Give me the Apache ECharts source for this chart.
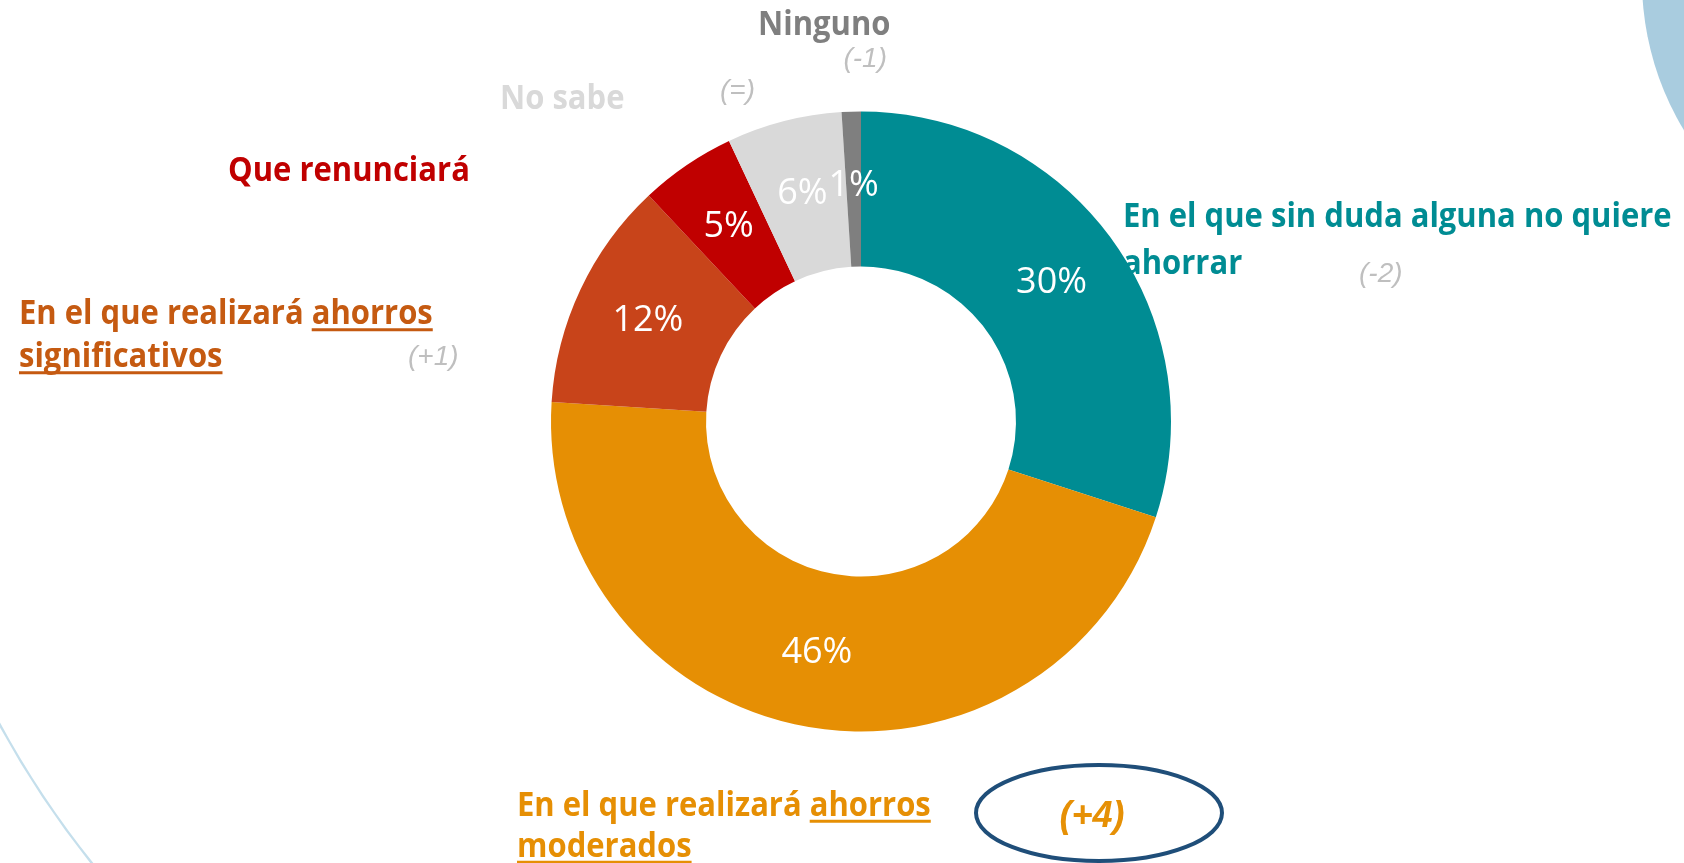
<!DOCTYPE html>
<html><head><meta charset="utf-8">
<script src="https://cdn.jsdelivr.net/npm/echarts@6/dist/echarts.min.js"></script>
<style>html,body{margin:0;padding:0;background:#fff}#c{width:1684px;height:863px}</style>
</head><body><div id="c"></div>
<script>
// ---- data ----
const categories = [
  'En el que sin duda alguna no quiere ahorrar',
  'En el que realizará ahorros moderados',
  'En el que realizará ahorros significativos',
  'Que renunciará',
  'No sabe',
  'Ninguno'
];
const values = [30, 46, 12, 5, 6, 1];
const changes = ['(-2)', '(+4)', '(+1)', '', '(=)', '(-1)'];
const categoryLines = [
  ['En el que sin duda alguna no quiere', 'ahorrar'],
  ['En el que realizará ahorros', 'moderados'],
  ['En el que realizará ahorros', 'significativos'],
  ['Que renunciará'],
  ['No sabe'],
  ['Ninguno']
];
const underlinedWords = [[], [[0, 'ahorros'], [1, 'moderados']], [[0, 'ahorros'], [1, 'significativos']], [], [], []];

// ---- styles ----
const sliceColors = ['#008C93', '#E68F04', '#C8441A', '#C00000', '#D9D9D9', '#7F7F7F'];
const labelColors = ['#008C93', '#E68F04', '#C55A11', '#C00000', '#D9D9D9', '#7F7F7F'];

// label layout: [left x, first-line y, line spacing]
const labelPos = [
  [1123, 217, 47],
  [517, 806, 41],
  [19, 314.5, 43],
  [228, 171.5, 44],
  [500, 99, 44],
  [758, 25, 44]
];
// change layout: [x, y, align]
const changePos = [
  [1359, 274, 'left'],
  [1092, 817, 'center'],
  [408, 357, 'left'],
  null,
  [720, 91, 'left'],
  [887, 59, 'right']
];

const FS = 31, SY = 1.1;
const boldFont = `bold ${FS}px "Open Sans"`;
const mctx = document.createElement('canvas').getContext('2d');
mctx.font = boldFont;

const graphics = [];
// background decorations
graphics.push({type: 'circle', z: 0, shape: {cx: 1932, cy: -20, r: 290}, style: {fill: '#A9CCDF'}});
graphics.push({type: 'arc', z: 0, shape: {cx: 834, cy: 270, r: 950, startAngle: 2.40, endAngle: 2.72}, style: {stroke: '#C5DFEC', lineWidth: 2.5, fill: null}});

categoryLines.forEach((lines, i) => {
  const [lx, ly, sp] = labelPos[i];
  lines.forEach((line, k) => {
    const y = ly + k * sp;
    graphics.push({
      type: 'text', z: 10, x: lx, y: y, scaleY: SY,
      style: {text: line, font: boldFont, fill: labelColors[i], align: 'left', verticalAlign: 'middle', textAlign: 'left', textVerticalAlign: 'middle'}
    });
  });
  underlinedWords[i].forEach(([k, word]) => {
    const line = lines[k];
    const idx = line.indexOf(word);
    const x0 = lx + mctx.measureText(line.slice(0, idx)).width;
    const w = mctx.measureText(word).width;
    const uy = ly + k * sp + 0.4 * FS * SY;
    graphics.push({type: 'rect', z: 10, shape: {x: x0, y: uy, width: w, height: 3}, style: {fill: labelColors[i]}});
  });
});

changes.forEach((c, i) => {
  if (!c) return;
  const [x, y, al] = changePos[i];
  const big = i === 1;
  graphics.push({
    type: 'text', z: 11, x: x, y: y,
    style: {
      text: c,
      font: big ? 'italic bold 36px "Liberation Sans"' : 'italic 28px "Liberation Sans"',
      fill: big ? '#E69005' : '#BFBFBF',
      align: al, verticalAlign: 'middle', textAlign: al, textVerticalAlign: 'middle'
    }
  });
});
// highlight ellipse around the biggest change
graphics.push({type: 'ellipse', z: 10, shape: {cx: 1099, cy: 813, rx: 123, ry: 48}, style: {stroke: '#1F4E79', lineWidth: 4, fill: null}});

const chart = echarts.init(document.getElementById('c'), null, {renderer: 'canvas'});
chart.setOption({
  animation: false,
  backgroundColor: '#ffffff',
  graphic: {elements: graphics},
  series: [{
    type: 'pie',
    center: [861, 421.5],
    radius: [155, 310],
    startAngle: 90,
    clockwise: true,
    silent: true,
    avoidLabelOverlap: false,
    labelLayout: {hideOverlap: false},
    label: {show: true, position: 'inside', formatter: p => p.value + '%', color: '#ffffff', fontFamily: 'Open Sans', fontSize: 36, fontWeight: 'normal'},
    labelLine: {show: false},
    itemStyle: {borderWidth: 0},
    data: categories.map((n, i) => ({name: n, value: values[i], itemStyle: {color: sliceColors[i]}}))
  }]
});
</script>
</body></html>
